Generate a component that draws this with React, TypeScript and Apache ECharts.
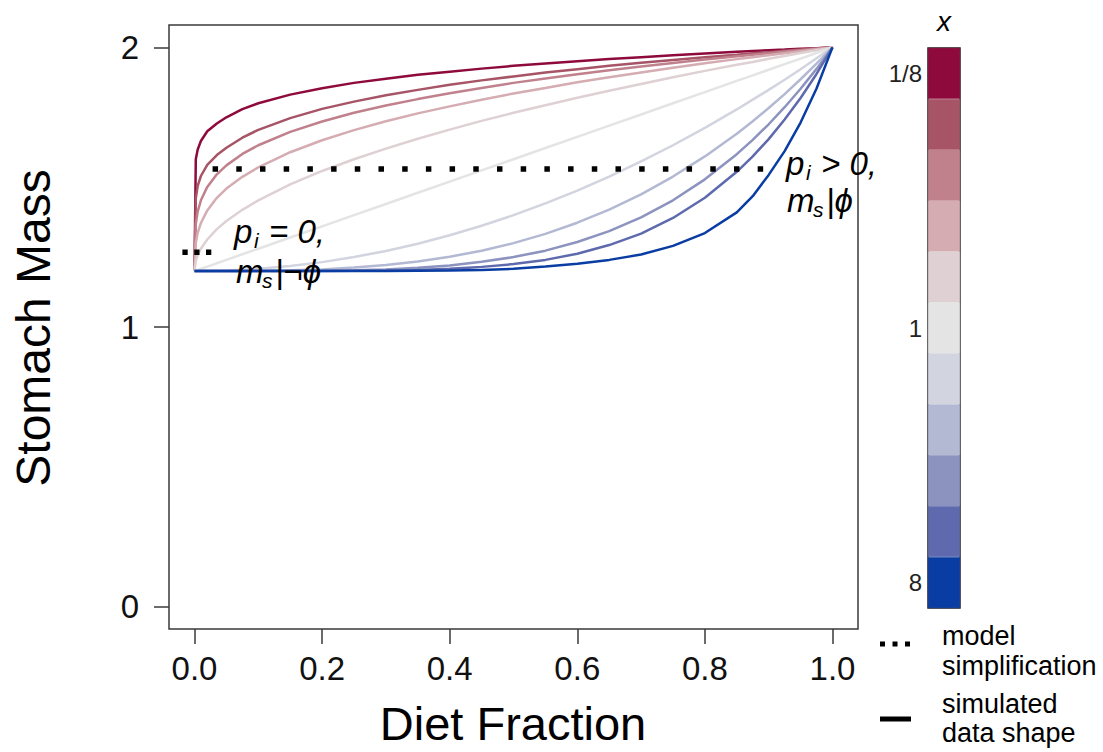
import React, { useEffect, useRef } from "react";
import * as echarts from "echarts";

// Diet fraction sampled along each simulated curve
const DIET_FRACTION = [0, 0.002, 0.005, 0.01, 0.02, 0.035, 0.05, 0.075, 0.1, 0.15, 0.2, 0.25, 0.3, 0.35, 0.4, 0.45, 0.5, 0.55, 0.6, 0.65, 0.7, 0.75, 0.8, 0.85, 0.875, 0.9, 0.925, 0.95, 0.975, 1];

// Shape parameter x for every curve, from 1/8 to 8
const X_LABELS = ["1/8", "1/5", "1/4", "1/3", "1/2", "1", "2", "3", "4", "5", "8"];
const X_COLORS = ["#8E0A3C", "#A65466", "#C0818D", "#D4ACB2", "#DED0D3", "#E4E4E4", "#D2D4DF", "#B3B8D3", "#8C93BF", "#5E6AAD", "#0A3DA3"];

// Stomach mass along the diet fraction, one row per x level
const MASS_X_1_8 = [1.2, 1.6, 1.635, 1.665, 1.7, 1.728, 1.75, 1.779, 1.8, 1.831, 1.854, 1.873, 1.888, 1.902, 1.913, 1.924, 1.934, 1.942, 1.95, 1.958, 1.965, 1.972, 1.978, 1.984, 1.987, 1.99, 1.992, 1.995, 1.997, 2.0];
const MASS_X_1_5 = [1.2, 1.46, 1.505, 1.54, 1.58, 1.615, 1.641, 1.677, 1.705, 1.747, 1.78, 1.806, 1.829, 1.848, 1.866, 1.882, 1.896, 1.91, 1.922, 1.934, 1.945, 1.955, 1.965, 1.974, 1.979, 1.983, 1.988, 1.992, 1.996, 2.0];
const MASS_X_1_4 = [1.2, 1.369, 1.413, 1.453, 1.501, 1.546, 1.578, 1.619, 1.65, 1.698, 1.735, 1.766, 1.792, 1.815, 1.836, 1.855, 1.873, 1.889, 1.904, 1.918, 1.932, 1.944, 1.957, 1.968, 1.974, 1.979, 1.985, 1.99, 1.995, 2.0];
const MASS_X_1_3 = [1.2, 1.301, 1.337, 1.372, 1.417, 1.462, 1.495, 1.537, 1.571, 1.625, 1.668, 1.704, 1.736, 1.764, 1.789, 1.813, 1.835, 1.855, 1.875, 1.893, 1.91, 1.927, 1.943, 1.958, 1.965, 1.972, 1.979, 1.986, 1.993, 2.0];
const MASS_X_1_2 = [1.2, 1.236, 1.257, 1.28, 1.313, 1.35, 1.379, 1.419, 1.453, 1.51, 1.558, 1.6, 1.638, 1.673, 1.706, 1.737, 1.766, 1.793, 1.82, 1.845, 1.869, 1.893, 1.916, 1.938, 1.948, 1.959, 1.969, 1.98, 1.99, 2.0];
const MASS_X_1 = [1.2, 1.202, 1.204, 1.208, 1.216, 1.228, 1.24, 1.26, 1.28, 1.32, 1.36, 1.4, 1.44, 1.48, 1.52, 1.56, 1.6, 1.64, 1.68, 1.72, 1.76, 1.8, 1.84, 1.88, 1.9, 1.92, 1.94, 1.96, 1.98, 2.0];
const MASS_X_2 = [1.2, 1.2, 1.2, 1.2, 1.2, 1.201, 1.202, 1.205, 1.208, 1.218, 1.232, 1.25, 1.272, 1.298, 1.328, 1.362, 1.4, 1.442, 1.488, 1.538, 1.592, 1.65, 1.712, 1.778, 1.813, 1.848, 1.884, 1.922, 1.961, 2.0];
const MASS_X_3 = [1.2, 1.2, 1.2, 1.2, 1.2, 1.2, 1.2, 1.2, 1.201, 1.203, 1.206, 1.213, 1.222, 1.234, 1.251, 1.273, 1.3, 1.333, 1.373, 1.42, 1.474, 1.538, 1.61, 1.691, 1.736, 1.783, 1.833, 1.886, 1.942, 2.0];
const MASS_X_4 = [1.2, 1.2, 1.2, 1.2, 1.2, 1.2, 1.2, 1.2, 1.2, 1.2, 1.201, 1.203, 1.206, 1.212, 1.22, 1.233, 1.25, 1.273, 1.304, 1.343, 1.392, 1.453, 1.528, 1.618, 1.669, 1.725, 1.786, 1.852, 1.923, 2.0];
const MASS_X_5 = [1.2, 1.2, 1.2, 1.2, 1.2, 1.2, 1.2, 1.2, 1.2, 1.2, 1.2, 1.201, 1.202, 1.204, 1.208, 1.215, 1.225, 1.24, 1.262, 1.293, 1.334, 1.39, 1.462, 1.555, 1.61, 1.672, 1.742, 1.819, 1.905, 2.0];
const MASS_X_8 = [1.2, 1.2, 1.2, 1.2, 1.2, 1.2, 1.2, 1.2, 1.2, 1.2, 1.2, 1.2, 1.2, 1.201, 1.202, 1.204, 1.208, 1.216, 1.226, 1.24, 1.259, 1.29, 1.336, 1.41, 1.468, 1.544, 1.629, 1.731, 1.853, 2.0];
const MASS_ROWS = [MASS_X_1_8, MASS_X_1_5, MASS_X_1_4, MASS_X_1_3, MASS_X_1_2, MASS_X_1, MASS_X_2, MASS_X_3, MASS_X_4, MASS_X_5, MASS_X_8];

// Model simplification levels: [diet fraction, stomach mass]
const LEVEL_ABSENT = [[-0.019, 1.267], [0.027, 1.267]];
const LEVEL_PRESENT = [[0.0283, 1.565], [0.8936, 1.565]];

const X_TICKS = [0, 0.2, 0.4, 0.6, 0.8, 1.0];
const Y_TICKS = [0, 1, 2];

const FONT = "'Liberation Sans', Arial, Helvetica, sans-serif";
const AXIS_GREY = "#3a3a3a";

function txt(text: string, x: number, y: number, size: number, opts: any = {}) {
  return {
    type: "text",
    x,
    y,
    silent: true,
    z: 10,
    style: {
      text,
      fill: opts.fill || "#000",
      fontSize: size,
      fontFamily: FONT,
      fontStyle: opts.italic ? "italic" : "normal",
      lineHeight: opts.lineHeight || Math.round(size * 0.92),
      align: opts.align || "left",
      textAlign: opts.align || "left",
      verticalAlign: "middle",
      textVerticalAlign: "middle",
    },
    rotation: opts.rotation || 0,
  };
}

// Italic annotation "p_i <op> 0," over "m_s|<cond>", drawn as separate runs
function annotation(px: number, base1: number, op: string, mx: number, base2: number, cond: string) {
  const big = 33;
  const small = 21;
  const mid = (b: number, s: number) => b - 0.3465 * s;
  const main = { italic: true, lineHeight: 30 };
  const sub = { italic: true, lineHeight: 14 };
  return [
    txt("p", px, mid(base1, big), big, main),
    txt("i", px + 20, mid(base1 + 5, small), small, sub),
    txt(op + " 0,", px + 35, mid(base1, big), big, main),
    txt("m", mx, mid(base2, big), big, main),
    txt("s", mx + 26, mid(base2 + 5, small), small, sub),
    txt(cond, mx + 39, mid(base2, big), big, main),
  ];
}

export default function App() {
  const ref = useRef<HTMLDivElement>(null);

  useEffect(() => {
    if (!ref.current) return;
    const chart = echarts.init(ref.current, null, { renderer: "svg" });

    const curveSeries = MASS_ROWS.map((row, k) => ({
      name: "x = " + X_LABELS[k],
      type: "line",
      xAxisIndex: 0,
      yAxisIndex: 0,
      data: DIET_FRACTION.map((f, i) => [f, row[i]]),
      symbol: "none",
      showSymbol: false,
      smooth: false,
      lineStyle: { color: X_COLORS[k], width: 2.5 },
      z: 2,
    }));

    const tickStyle = { color: AXIS_GREY, width: 1.5 };

    const option: any = {
      animation: false,
      backgroundColor: "#ffffff",
      textStyle: { fontFamily: FONT },
      grid: [
        { left: 169, top: 25, width: 689, height: 604, show: true, borderColor: AXIS_GREY, borderWidth: 1.5, backgroundColor: "transparent", containLabel: false },
        { left: 928, top: 48, width: 32, height: 560, show: true, borderColor: "#222", borderWidth: 1.5, backgroundColor: "transparent", containLabel: false },
      ],
      xAxis: [
        {
          gridIndex: 0,
          type: "value",
          min: -0.04,
          max: 1.04,
          position: "bottom",
          axisLine: { show: false, onZero: false },
          splitLine: { show: false },
          axisTick: { show: true, customValues: X_TICKS, length: 15, inside: false, lineStyle: tickStyle },
          axisLabel: { customValues: X_TICKS, formatter: (v: number) => v.toFixed(1), fontSize: 33, color: "#111", fontFamily: FONT, margin: 23 },
        },
        { gridIndex: 1, type: "value", min: 0, max: 1, show: false },
      ],
      yAxis: [
        {
          gridIndex: 0,
          type: "value",
          min: -0.08,
          max: 2.08,
          position: "left",
          axisLine: { show: false, onZero: false },
          splitLine: { show: false },
          axisTick: { show: true, customValues: Y_TICKS, length: 15, inside: false, lineStyle: tickStyle },
          axisLabel: { customValues: Y_TICKS, formatter: (v: number) => String(v), fontSize: 33, color: "#111", fontFamily: FONT, margin: 30 },
        },
        {
          gridIndex: 1,
          type: "category",
          data: X_LABELS,
          inverse: true,
          axisLine: { show: false },
          axisTick: { show: false },
          splitLine: { show: false },
          axisLabel: { interval: 4, fontSize: 24, color: "#222", fontFamily: FONT, margin: 6 },
        },
      ],
      series: [
        ...curveSeries,
        {
          name: "simplification absent",
          type: "line",
          xAxisIndex: 0,
          yAxisIndex: 0,
          data: LEVEL_ABSENT,
          symbol: "none",
          lineStyle: { color: "#000", width: 5.5, type: [5.3, 6.5], cap: "butt" },
          z: 3,
        },
        {
          name: "simplification present",
          type: "line",
          xAxisIndex: 0,
          yAxisIndex: 0,
          data: LEVEL_PRESENT,
          symbol: "none",
          lineStyle: { color: "#000", width: 5.5, type: [5.5, 18.2], cap: "butt" },
          z: 3,
        },
        {
          name: "x colour key",
          type: "bar",
          xAxisIndex: 1,
          yAxisIndex: 1,
          barCategoryGap: "0%",
          data: X_COLORS.map((c) => ({ value: 1, itemStyle: { color: c, borderColor: c, borderWidth: 0.6 } })),
          z: 1,
        },
      ],
      graphic: [
        // axis titles
        txt("Diet Fraction", 513, 723, 47, { align: "center" }),
        txt("Stomach Mass", 33, 328, 48, { align: "center", rotation: Math.PI / 2 }),
        // colour key title
        txt("x", 944, 21, 28, { align: "center", italic: true }),
        // in-plot annotations
        ...annotation(234, 243, "=", 236, 283, "|¬ϕ"),
        ...annotation(786, 175, ">", 787, 212, "|ϕ"),
        // line-style key
        {
          type: "line",
          silent: true,
          shape: { x1: 880, y1: 644, x2: 910, y2: 644 },
          style: { stroke: "#000", lineWidth: 5, lineDash: [5, 7.5], lineCap: "butt" },
        },
        {
          type: "line",
          silent: true,
          shape: { x1: 880, y1: 719, x2: 911, y2: 719 },
          style: { stroke: "#000", lineWidth: 5, lineCap: "butt" },
        },
        txt("model\nsimplification", 942, 651, 27, { lineHeight: 29.5 }),
        txt("simulated\ndata shape", 942, 718.5, 27, { lineHeight: 29.5 }),
      ],
    };

    chart.setOption(option);
    return () => chart.dispose();
  }, []);

  return (
    <div
      ref={ref}
      style={{ position: "fixed", left: 0, top: 0, width: 1103, height: 752, background: "#fff" }}
    />
  );
}
